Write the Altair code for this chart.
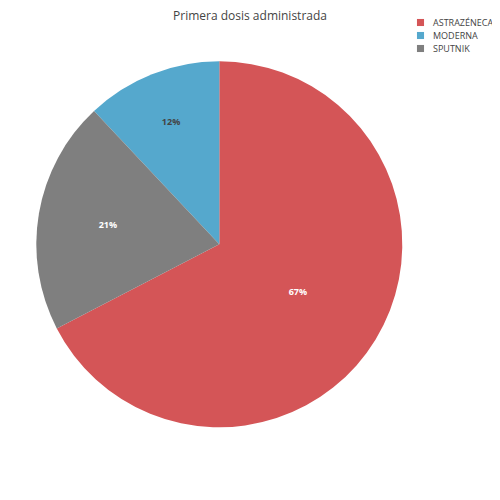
import altair as alt
import pandas as pd
import math

categories = ["ASTRAZÉNECA", "MODERNA", "SPUTNIK"]
values = [67.4, 12.0, 20.6]
colors = ["#d45557", "#55a8cd", "#7f7f7f"]

df = pd.DataFrame({"category": categories, "value": values})

TOP = 17
CX, CY, R = 211.3, 244.3 - 8 - TOP, 183

base = alt.Chart(df).transform_joinaggregate(
    total="sum(value)"
).transform_window(
    cum="sum(value)",
    sort=[alt.SortField("value", order="descending")],
    frame=[None, 0],
).transform_calculate(
    pct="datum.value / datum.total",
    mid=f"(datum.cum - datum.value / 2) / datum.total * 2 * {math.pi}",
    r="datum.category == 'ASTRAZÉNECA' ? 92 : (datum.category == 'SPUTNIK' ? 113 : 131)",
    tcolor="datum.category == 'MODERNA' ? '#444444' : '#ffffff'",
)

arcs = base.mark_arc(outerRadius=R).encode(
    theta=alt.Theta("value:Q", stack=True),
    order=alt.Order("value:Q", sort="descending"),
    color=alt.Color(
        "category:N",
        scale=alt.Scale(domain=categories, range=colors),
        legend=alt.Legend(
            title=None,
            orient="none",
            legendX=408,
            legendY=-7,
            symbolType="square",
            symbolSize=50,
            symbolStrokeWidth=0,
            labelFontSize=9,
            labelColor="#444444",
            labelFont="Open Sans",
            labelOffset=8,
            rowPadding=3,
            padding=0,
        ),
    ),
    x=alt.value(CX),
    y=alt.value(CY),
)

texts = base.mark_text(fontSize=9, font="Open Sans", fontWeight="bold").encode(
    theta=alt.Theta("mid:Q", scale=None),
    radius=alt.Radius("r:Q", scale=None),
    text=alt.Text("pct:Q", format=".0%"),
    color=alt.Color("tcolor:N", scale=None),
    x=alt.value(CX),
    y=alt.value(CY),
)

chart = alt.layer(arcs, texts).properties(
    width=484,
    height=484 - TOP,
    padding={"left": 0, "right": 0, "top": TOP, "bottom": 0},
    autosize=alt.AutoSizeParams(type="none"),
    title=alt.TitleParams(
        "Primera dosis administrada",
        fontSize=12,
        font="Open Sans",
        fontWeight="normal",
        color="#444444",
        anchor="middle",
        frame="group",
        offset=2,
        dy=7,
    ),
).configure_view(stroke=None)

chart.save("out.html", embed_options={"renderer": "svg", "actions": False})
